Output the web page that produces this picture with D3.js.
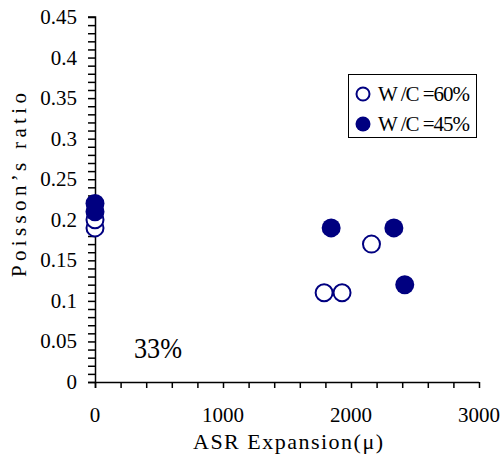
<!DOCTYPE html>
<html><head><meta charset="utf-8">
<script src="https://cdn.jsdelivr.net/npm/d3@7"></script>
<style>body{margin:0;background:#fff}svg{display:block}
svg text{font-family:"Liberation Serif","DejaVu Serif","Times New Roman",serif;}
</style>
</head><body>
<svg id="c" width="504" height="464"></svg>
<script>
const seriesNames = ["W /C =60%", "W /C =45%"];
const wc60 = [ {x:0,y:0.19},{x:0,y:0.20},{x:1790,y:0.11},{x:1930,y:0.11},{x:2160,y:0.17} ];
const wc45 = [ {x:0,y:0.21},{x:0,y:0.22},{x:1845,y:0.19},{x:2335,y:0.19},{x:2420,y:0.12} ];
const xTicks = [0,1000,2000,3000];
const xTickLabels = ["0","1000","2000","3000"];
const yTicks = [0,0.05,0.1,0.15,0.2,0.25,0.3,0.35,0.4,0.45];
const yTickLabels = ["0","0.05","0.1","0.15","0.2","0.25","0.3","0.35","0.4","0.45"];
const xTitle = "ASR Expansion(\u03BC)";
const yTitle = "Poisson\u2019s ratio";
const note = "33%";

const svg = d3.select("#c");
const x = d3.scaleLinear().domain([0,3000]).range([95,479]);
const y = d3.scaleLinear().domain([0,0.45]).range([382,17]);
const navy = "#000080";

const xMinor = d3.range(0,3001,200);
const yMinor = d3.range(0,46).map(i=>i/100);

const gx = svg.append("g").attr("transform","translate(0,382)")
  .call(d3.axisBottom(x).tickValues(xMinor).tickSize(6).tickFormat(""));
gx.select(".domain").attr("d","M88,0.5H479");
gx.selectAll("line").attr("stroke","#000").attr("stroke-width",1.5);
gx.select(".domain").attr("stroke","#000").attr("stroke-width",1.5);

const gy = svg.append("g").attr("transform","translate(95,0)")
  .call(d3.axisLeft(y).tickValues(yMinor).tickSize(7).tickFormat(""));
gy.select(".domain").attr("d","M0.5,17H-7H0.5V388");
gy.selectAll("line").attr("stroke","#000").attr("stroke-width",1.5);
gy.select(".domain").attr("stroke","#000").attr("stroke-width",1.5).attr("fill","none");

svg.append("g").selectAll("text").data(xTicks).join("text")
  .attr("x",d=>x(d)).attr("y",422).attr("text-anchor","middle")
  .attr("font-size",21)
  .text((d,i)=>xTickLabels[i]);
svg.append("g").selectAll("text").data(yTicks).join("text")
  .attr("x",77).attr("y",d=>y(d)+7).attr("text-anchor","end")
  .attr("font-size",21)
  .text((d,i)=>yTickLabels[i]);

svg.append("text").attr("x",193).attr("y",449)
  .attr("font-size",22)
  .attr("textLength",190).attr("lengthAdjust","spacing")
  .text(xTitle);
svg.append("text").attr("transform","translate(26,277) rotate(-90)")
  .attr("font-size",21)
  .attr("textLength",184).attr("lengthAdjust","spacing")
  .text(yTitle);

svg.append("text").attr("x",134).attr("y",358)
  .attr("font-size",30)
  .attr("textLength",48).attr("lengthAdjust","spacingAndGlyphs")
  .text(note);

svg.append("g").selectAll("circle").data(wc60).join("circle")
  .attr("cx",d=>x(d.x)).attr("cy",d=>y(d.y)).attr("r",8.5)
  .attr("fill","#fff").attr("stroke",navy).attr("stroke-width",2);
svg.append("g").selectAll("circle").data(wc45).join("circle")
  .attr("cx",d=>x(d.x)).attr("cy",d=>y(d.y)).attr("r",9.5)
  .attr("fill",navy);

const lg = svg.append("g");
lg.append("rect").attr("x",348.5).attr("y",74.5).attr("width",128).attr("height",63)
  .attr("fill","#fff").attr("stroke","#000").attr("stroke-width",1);
lg.append("circle").attr("cx",363).attr("cy",94).attr("r",6.5)
  .attr("fill","#fff").attr("stroke",navy).attr("stroke-width",2);
lg.append("circle").attr("cx",363).attr("cy",124).attr("r",7.5).attr("fill",navy);
[0,1].forEach(i=>{
  lg.append("text").attr("x",378).attr("y",101+i*30)
    .attr("font-size",21)
    .attr("textLength",92).attr("lengthAdjust","spacing")
    .text(seriesNames[i]);
});
</script>
</body></html>
